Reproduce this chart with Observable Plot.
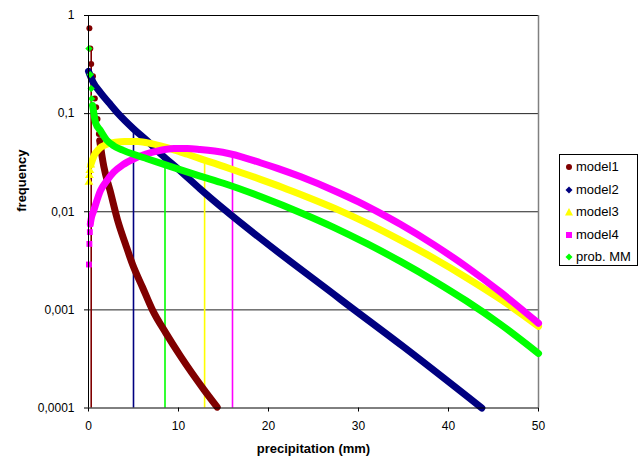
<!DOCTYPE html>
<html><head><meta charset="utf-8">
<script src="https://cdn.jsdelivr.net/npm/d3@7"></script>
<script src="https://cdn.jsdelivr.net/npm/@observablehq/plot@0.6"></script>
<style>
body{margin:0;background:#fff;font-family:"Liberation Sans",Arial,sans-serif;}
#wrap{position:relative;width:644px;height:462px;overflow:hidden;}
#legend{position:absolute;left:559px;top:154px;width:79px;height:112px;border:1px solid #000;box-sizing:border-box;background:#fff;font-size:13px;color:#000;}
.item{position:absolute;left:0;height:16px;line-height:16px;white-space:nowrap;}
.item svg{position:absolute;left:4px;top:3px;}
.item span{position:absolute;left:16px;top:0;}
</style></head><body><div id="wrap"></div>
<script>
// ---- data ----
const seriesNames = ["model1", "model2", "model3", "model4", "prob. MM"];
const seriesColors = ["#800000", "#000080", "#FFFF00", "#FF00FF", "#00FF00"];
const seriesSymbols = ["circle", "diamond2", "triangle", "square", "diamond2"];

const model1X = [0.1, 0.2, 0.3, 0.5, 0.7, 0.85, 1.0, 1.15, 1.25, 1.5, 1.7, 2.4, 3.3, 4.1, 4.9, 6.0, 7.1, 8.6, 10.2, 12.8, 14.3];
const model1Y = [0.74, 0.46, 0.32, 0.24, 0.143, 0.116, 0.088, 0.062, 0.053, 0.037, 0.029, 0.0164, 0.0078, 0.0047, 0.0029, 0.0017, 0.001, 0.00058, 0.00034, 0.000155, 0.000102];

const model2X = [0, 0.5, 1.33, 2.3, 3.3, 5, 6.5, 8, 10, 12.4, 28, 35, 43.7];
const model2Y = [0.27, 0.21, 0.164, 0.128, 0.1, 0.07, 0.053, 0.039, 0.027, 0.0171, 0.00128, 0.00042, 0.0001];

const model3X = [0.05, 0.1, 0.15, 0.25, 0.6, 1.2, 2.1, 3.0, 4.0, 5.5, 7, 8, 9.5, 11, 12.4, 15, 17, 19.1, 21.5, 24, 27.5, 31, 34.7, 38.5, 42, 45.8, 50];
const model3Y = [0.02, 0.0234, 0.0263, 0.03, 0.037, 0.044, 0.049, 0.051, 0.052, 0.052, 0.0494, 0.0469, 0.0428, 0.0385, 0.0348, 0.029, 0.025, 0.0214, 0.0178, 0.0145, 0.0107, 0.0076, 0.0051, 0.0033, 0.00213, 0.00128, 0.00068];

const model4X = [0.05, 0.1, 0.15, 0.2, 0.3, 0.6, 1.33, 2.0, 2.8, 3.8, 5, 6.3, 7.6, 9.5, 11, 12.4, 14, 15.8, 19.1, 21, 23.6, 27.5, 30, 32.2, 34.7, 38.4, 42, 45.8, 50];
const model4Y = [0.0029, 0.0047, 0.0062, 0.0075, 0.0085, 0.0104, 0.0164, 0.0205, 0.0253, 0.030, 0.0345, 0.0385, 0.0415, 0.044, 0.0441, 0.0432, 0.0416, 0.0388, 0.0316, 0.0277, 0.0227, 0.0161, 0.0126, 0.0099, 0.0074, 0.0046, 0.00275, 0.00151, 0.00073];

const probMMX = [0.05, 0.2, 0.3, 0.35, 0.45, 0.55, 0.8, 1.33, 2.0, 2.8, 3.8, 5, 6.5, 8.4, 10, 12.4, 15, 19.1, 23.9, 27.3, 31, 34.7, 38.5, 42, 45.8, 50];
const probMMY = [0.46, 0.25, 0.18, 0.142, 0.121, 0.107, 0.08, 0.067, 0.054, 0.047, 0.0425, 0.0385, 0.0347, 0.0304, 0.0272, 0.0231, 0.0195, 0.0143, 0.0095, 0.0069, 0.0047, 0.0031, 0.00195, 0.00123, 0.00071, 0.00036];

// vertical marker lines (mean of each distribution) and the value they reach
const meanX = [0.3, 5, 12.9, 16, 8.5];
const meanTop = [0.45, 0.065, 0.032, 0.037, 0.030];

const xTicks = [0, 10, 20, 30, 40, 50];
const yTicks = [0.0001, 0.001, 0.01, 0.1, 1];

// ---- build marks ----
const allX = [model1X, model2X, model3X, model4X, probMMX];
const allY = [model1Y, model2Y, model3Y, model4Y, probMMY];
// number of leading points that appear as separate markers (steep part)
const headCount = [9, 0, 4, 4, 5];

const marks = [];
marks.push(Plot.ruleY(yTicks.filter(d => d > 0.0001 && d < 1), {stroke: "#222", strokeWidth: 1}));
marks.push(Plot.ruleY([1], {stroke: "#000"}));
marks.push(Plot.ruleX([50], {stroke: "#808080", strokeWidth: 1.5}));
const means = meanX.map((x, i) => ({x, top: meanTop[i], c: seriesColors[i]}));
marks.push(Plot.ruleX(means, {x: "x", y1: () => 0.0001, y2: "top", stroke: "c", strokeWidth: 1.6}));

seriesNames.forEach((name, s) => {
  const rows = allX[s].map((x, i) => ({x, y: allY[s][i], i}));
  const h = headCount[s];
  const body = rows.filter(d => d.i >= Math.max(0, h - 1));
  const head = rows.filter(d => d.i < h);
  marks.push(Plot.line(body, {x: "x", y: "y", stroke: seriesColors[s], strokeWidth: 7, curve: "monotone-x", strokeLinecap: "round", strokeLinejoin: "round"}));
  if (head.length) {
    marks.push(Plot.dot(head, {x: "x", y: "y", symbol: () => seriesSymbols[s], fill: seriesColors[s], stroke: "none", r: s === 0 ? 3 : 3.3}));
  }
});

marks.push(Plot.ruleX([0], {stroke: "#000"}));
marks.push(Plot.ruleY([0.0001], {stroke: "#000"}));
marks.push(Plot.axisX({ticks: xTicks, tickSize: 4, tickPadding: 9, label: null, fontSize: 12}));
marks.push(Plot.axisY({ticks: yTicks, tickSize: 4, tickPadding: 10, label: null, fontSize: 12,
  tickFormat: d => String(d).replace(".", ",")}));
marks.push(Plot.text(["precipitation (mm)"], {frameAnchor: "bottom", dy: 45, fontWeight: "bold", fontSize: 13, fill: "#000"}));
marks.push(Plot.text(["frequency"], {frameAnchor: "left", dx: -67, rotate: -90, fontWeight: "bold", fontSize: 13, fill: "#000"}));

const chart = Plot.plot({
  width: 644,
  height: 462,
  marginLeft: 88,
  marginRight: 106,
  marginTop: 15,
  marginBottom: 54.5,
  style: {fontFamily: "'Liberation Sans', Arial, sans-serif", fontSize: "12px", background: "#fff", color: "#000"},
  x: {domain: [0, 50]},
  y: {type: "log", domain: [0.0001, 1]},
  symbol: {type: "identity"},
  marks
});
const wrap = document.getElementById("wrap");
wrap.appendChild(chart);

// ---- legend ----
const legend = document.createElement("div");
legend.id = "legend";
const shapes = [
  c => `<circle cx="5" cy="5" r="3" fill="${c}"/>`,
  c => `<polygon points="5,1.5 8.5,5 5,8.5 1.5,5" fill="${c}"/>`,
  c => `<polygon points="5,1 9,8.5 1,8.5" fill="${c}"/>`,
  c => `<rect x="2" y="2" width="6" height="6" fill="${c}"/>`,
  c => `<polygon points="5,1.5 8.5,5 5,8.5 1.5,5" fill="${c}"/>`
];
seriesNames.forEach((name, i) => {
  const item = document.createElement("div");
  item.className = "item";
  item.style.top = (4 + i * 22.5) + "px";
  item.innerHTML = `<svg width="10" height="10">${shapes[i](seriesColors[i])}</svg><span>${name}</span>`;
  legend.appendChild(item);
});
wrap.appendChild(legend);
</script>
</body></html>
